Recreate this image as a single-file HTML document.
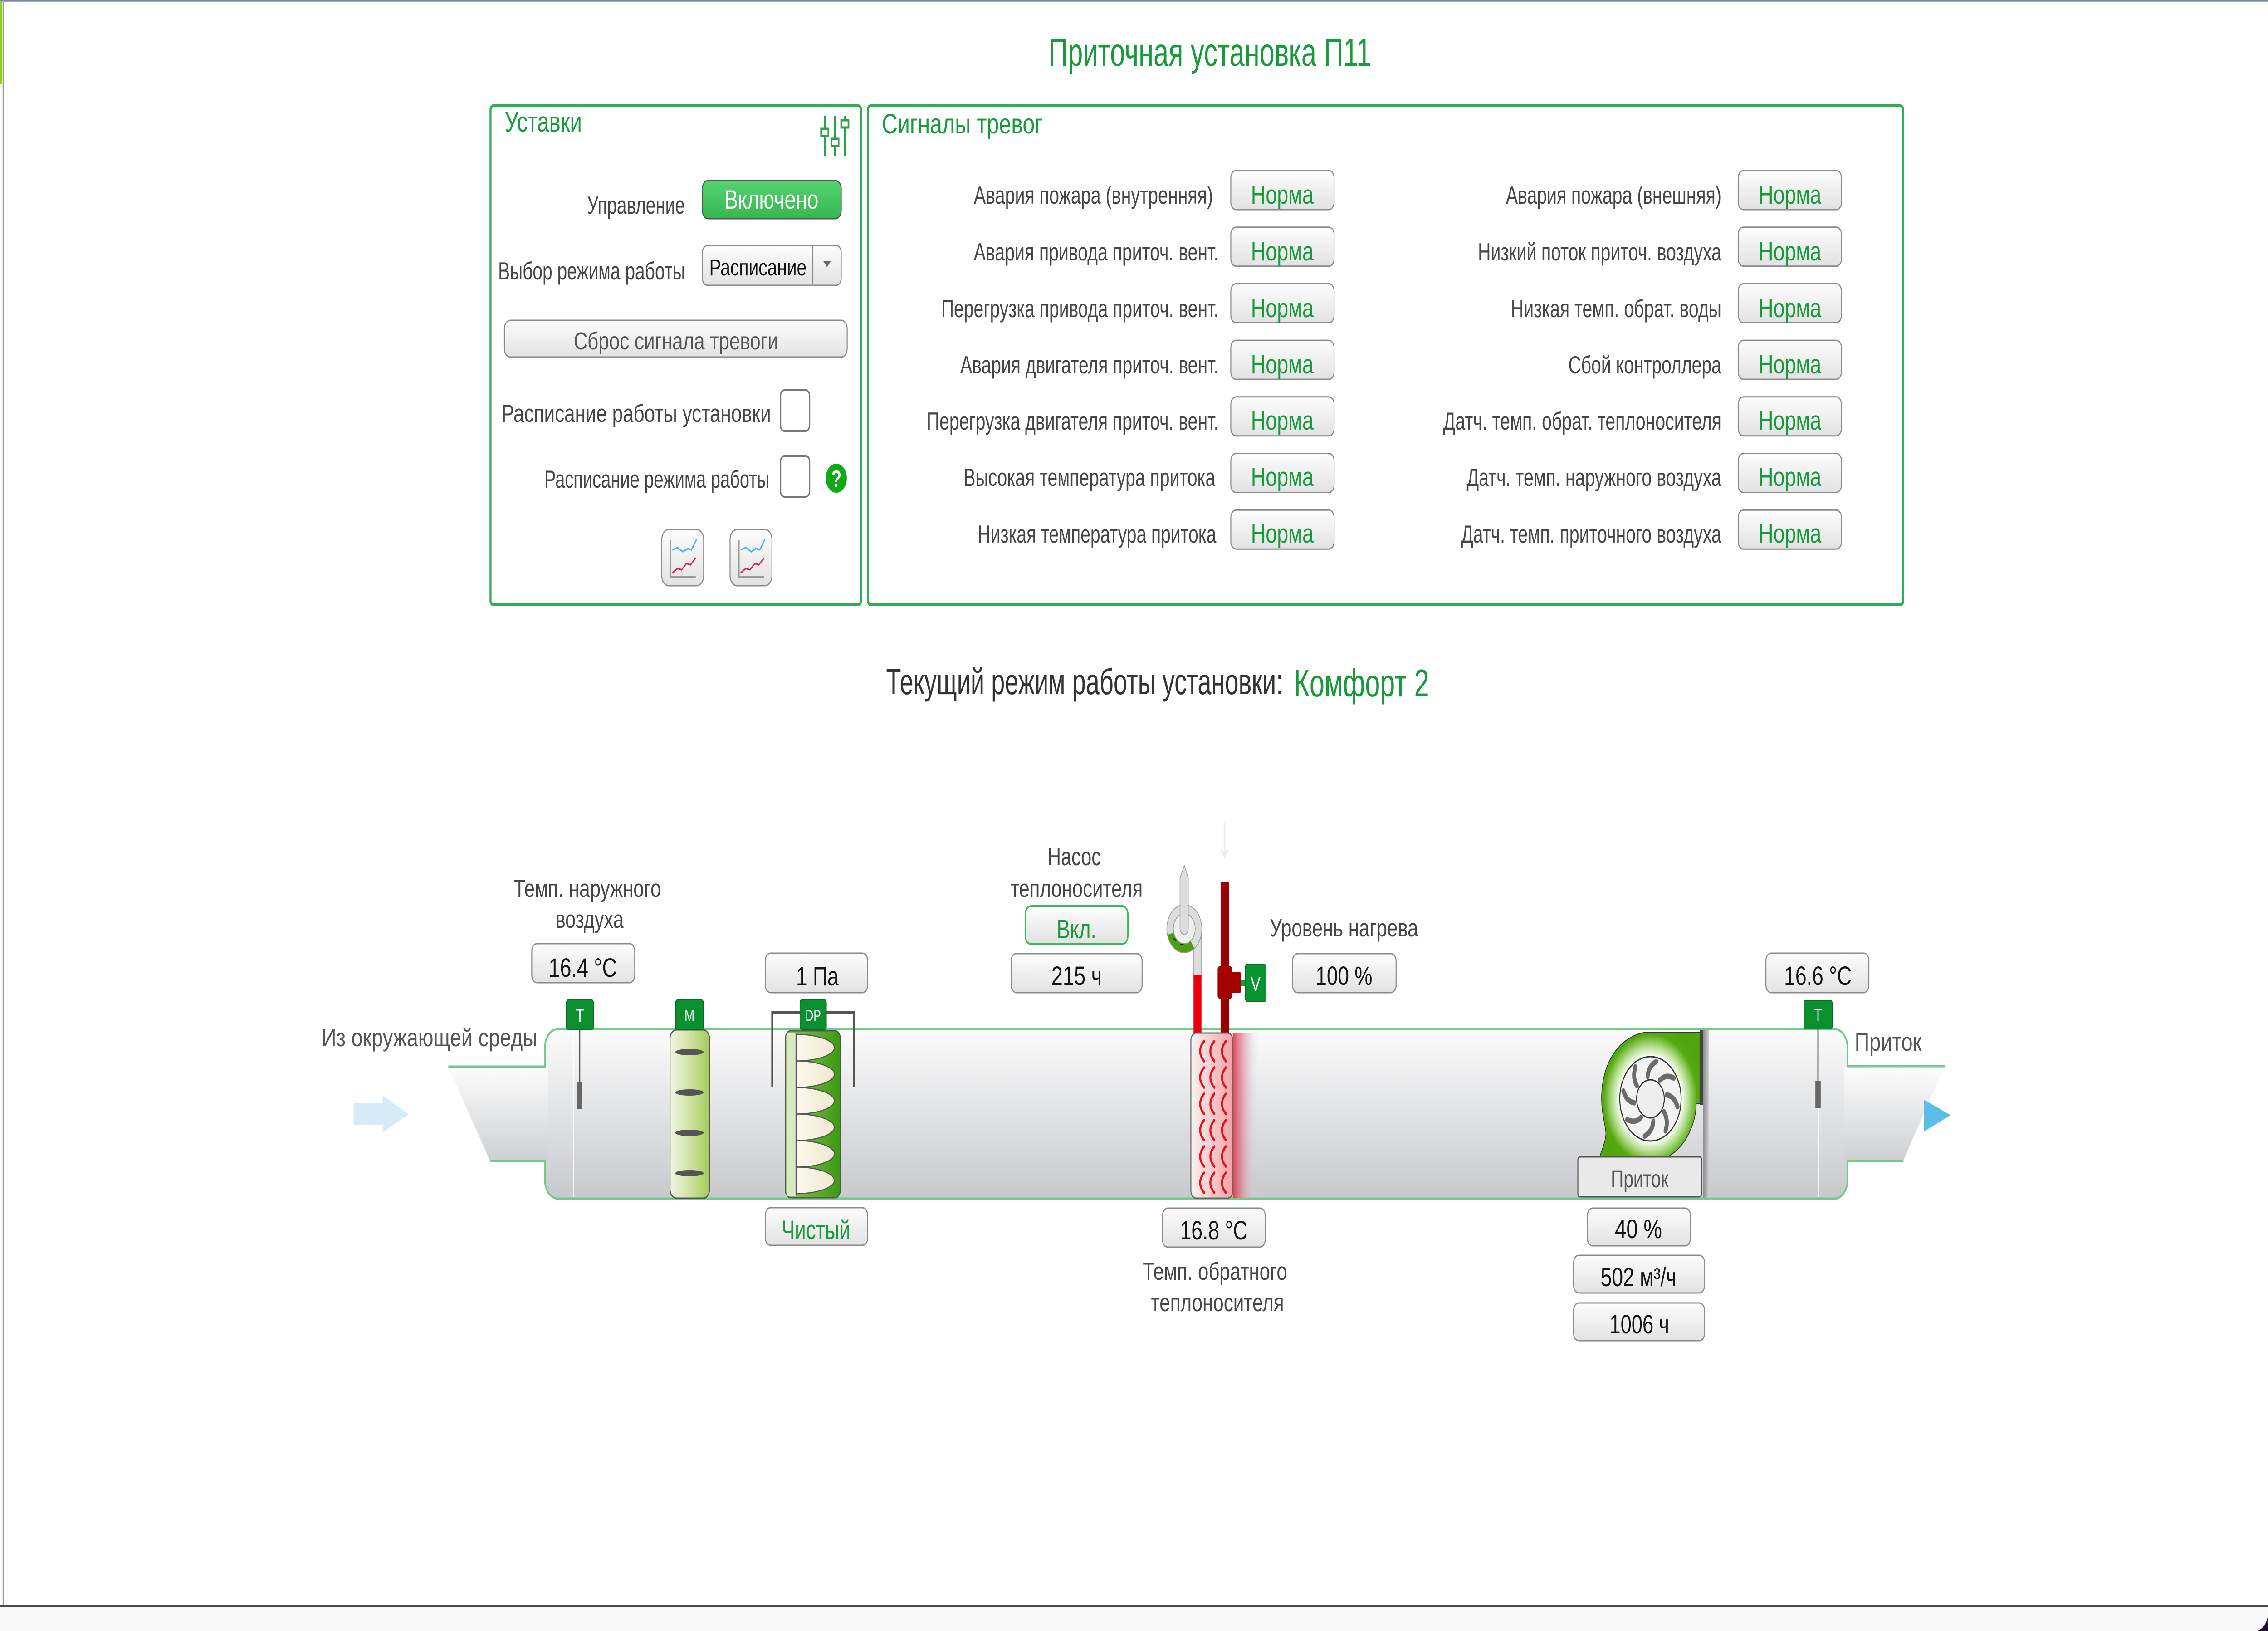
<!DOCTYPE html>
<html lang="ru">
<head>
<meta charset="utf-8">
<title>Приточная установка П11</title>
<style>
  html,body{margin:0;padding:0;background:#fff;width:100%;height:100%;overflow:hidden;}
  svg{display:block;position:fixed;left:0;top:0;width:100vw;height:100vh;}
  text{font-family:"Liberation Sans","DejaVu Sans",sans-serif;}
  .lbl{fill:#454545;font-size:55px;}
  .val{fill:#141414;font-size:58px;}
  .grn{fill:#169a3a;}
  .nrm{fill:#169a3a;font-size:58px;}
  .box{fill:url(#btn);stroke:#8a8a8a;stroke-width:3;}
</style>
</head>
<body>
<svg xmlns="http://www.w3.org/2000/svg" viewBox="0 0 6875 3595" preserveAspectRatio="none">
  <defs>
    <linearGradient id="btn" x1="0" y1="0" x2="0" y2="1">
      <stop offset="0" stop-color="#fdfdfd"/>
      <stop offset="1" stop-color="#e2e2e3"/>
    </linearGradient>
    <linearGradient id="gbtn" x1="0" y1="0" x2="0" y2="1">
      <stop offset="0" stop-color="#56d470"/>
      <stop offset="1" stop-color="#36b650"/>
    </linearGradient>
    <linearGradient id="duct" gradientUnits="userSpaceOnUse" x1="0" y1="2268" x2="0" y2="2642">
      <stop offset="0" stop-color="#fbfbfb"/>
      <stop offset="1" stop-color="#c7c9cd"/>
    </linearGradient>
    <linearGradient id="noz" gradientUnits="userSpaceOnUse" x1="0" y1="2351" x2="0" y2="2559">
      <stop offset="0" stop-color="#fdfdfd"/>
      <stop offset="1" stop-color="#cdcfd2"/>
    </linearGradient>
    <linearGradient id="damp" x1="0" y1="0" x2="1" y2="0">
      <stop offset="0" stop-color="#f0f4e2"/>
      <stop offset="0.5" stop-color="#cfe2a2"/>
      <stop offset="1" stop-color="#a3ca58"/>
    </linearGradient>
    <linearGradient id="filt" x1="0" y1="0" x2="1" y2="0">
      <stop offset="0" stop-color="#8cc850"/>
      <stop offset="1" stop-color="#3b9a12"/>
    </linearGradient>
    <linearGradient id="leaf" x1="0" y1="0" x2="1" y2="0">
      <stop offset="0" stop-color="#fbf8ee"/>
      <stop offset="1" stop-color="#efe9cf"/>
    </linearGradient>
    <linearGradient id="heat" x1="0" y1="0" x2="1" y2="0">
      <stop offset="0" stop-color="#f7f2f2"/>
      <stop offset="1" stop-color="#f3a4a8"/>
    </linearGradient>
    <linearGradient id="glow" x1="0" y1="0" x2="1" y2="0">
      <stop offset="0" stop-color="#e2303e" stop-opacity="0.9"/>
      <stop offset="0.5" stop-color="#d9a0b0" stop-opacity="0.6"/>
      <stop offset="1" stop-color="#d8e2ee" stop-opacity="0"/>
    </linearGradient>
    <radialGradient id="fanrad" gradientUnits="userSpaceOnUse" cx="5003" cy="2422" r="165">
      <stop offset="0" stop-color="#ffffff"/>
      <stop offset="0.56" stop-color="#ffffff"/>
      <stop offset="0.70" stop-color="#b6de90"/>
      <stop offset="0.86" stop-color="#55a90f"/>
      <stop offset="1" stop-color="#4ea50c"/>
    </radialGradient>
    <linearGradient id="topbar" x1="0" y1="0" x2="0" y2="1">
      <stop offset="0" stop-color="#56657c"/>
      <stop offset="1" stop-color="#c6ceda"/>
    </linearGradient>
    <linearGradient id="sep" x1="0" y1="0" x2="1" y2="0">
      <stop offset="0" stop-color="#8c8c8e"/>
      <stop offset="0.5" stop-color="#a8a8aa"/>
      <stop offset="1" stop-color="#d0d0d2"/>
    </linearGradient>
  </defs>

  <!-- page frame -->
  <rect x="0" y="0" width="6875" height="3595" fill="#ffffff"/>
  <rect x="0" y="0" width="6875" height="5" fill="url(#topbar)"/>
  <rect x="0" y="5" width="7" height="180" fill="#8fd01f"/>
  <rect x="8" y="0" width="4" height="3540" fill="#9a9a9a"/>
  <rect x="0" y="3538" width="6875" height="3" fill="#4a4a4a"/>
  <rect x="0" y="3541" width="6875" height="54" fill="#f8f8f8"/>
  <path d="M6875 3555 A40 40 0 0 1 6835 3595 L6875 3595 Z" fill="#1e1030"/>

  <!-- Title -->
  <text x="3178" y="145" font-size="87" class="grn" textLength="979" lengthAdjust="spacingAndGlyphs">Приточная установка П11</text>

  <!-- ============ Panel: Уставки ============ -->
  <rect x="1487" y="233" width="1123" height="1100" rx="8" fill="#fff" stroke="#2fae55" stroke-width="6"/>
  <text x="1530" y="290" font-size="62" class="grn" textLength="234" lengthAdjust="spacingAndGlyphs">Уставки</text>

  <!-- slider icon -->
  <g stroke="#2aa14a" stroke-width="5" fill="none">
    <line x1="2500" y1="255" x2="2500" y2="343"/>
    <line x1="2531" y1="255" x2="2531" y2="343"/>
    <line x1="2561" y1="255" x2="2561" y2="343"/>
    <rect x="2489" y="284" width="22" height="16" fill="#fff"/>
    <rect x="2520" y="306" width="22" height="16" fill="#fff"/>
    <rect x="2550" y="265" width="22" height="16" fill="#fff"/>
  </g>

  <text x="1780" y="471" class="lbl" font-size="53" textLength="296" lengthAdjust="spacingAndGlyphs">Управление</text>
  <rect x="2129" y="398" width="421" height="84" rx="18" fill="url(#gbtn)" stroke="#555" stroke-width="3"/>
  <text x="2196" y="460" font-size="58" fill="#ffffff" textLength="285" lengthAdjust="spacingAndGlyphs">Включено</text>

  <text x="1510" y="616" class="lbl" font-size="53" textLength="567" lengthAdjust="spacingAndGlyphs">Выбор режима работы</text>
  <rect x="2129" y="541" width="421" height="88" rx="16" class="box"/>
  <line x1="2464" y1="543" x2="2464" y2="627" stroke="#8a8a8a" stroke-width="3"/>
  <polygon points="2496,576 2518,576 2507,589" fill="#666"/>
  <text x="2150" y="607" font-size="51" fill="#111" textLength="295" lengthAdjust="spacingAndGlyphs">Расписание</text>

  <rect x="1529" y="706" width="1039" height="81" rx="18" class="box"/>
  <text x="1739" y="770" font-size="54" fill="#555" textLength="620" lengthAdjust="spacingAndGlyphs">Сброс сигнала тревоги</text>

  <text x="1520" y="930" class="lbl" font-size="56" textLength="817" lengthAdjust="spacingAndGlyphs">Расписание работы установки</text>
  <rect x="2366" y="860" width="88" height="90" rx="12" fill="#fff" stroke="#777" stroke-width="4"/>

  <text x="1650" y="1075" class="lbl" font-size="56" textLength="682" lengthAdjust="spacingAndGlyphs">Расписание режима работы</text>
  <rect x="2366" y="1005" width="88" height="90" rx="12" fill="#fff" stroke="#777" stroke-width="4"/>
  <circle cx="2535" cy="1054" r="32" fill="#12a818"/>
  <text x="2535" y="1073" font-size="52" font-weight="bold" fill="#fff" text-anchor="middle">?</text>

  <!-- chart buttons -->
  <g>
    <rect x="2006" y="1167" width="127" height="124" rx="22" class="box"/>
    <polyline points="2033,1190 2033,1272 2109,1272" fill="none" stroke="#9a9a9a" stroke-width="4"/>
    <polyline points="2038,1212 2054,1207 2070,1216 2085,1209 2096,1212 2112,1188" fill="none" stroke="#45b2e8" stroke-width="3.5"/>
    <polyline points="2038,1263 2054,1253 2066,1256 2081,1242 2093,1245 2109,1230" fill="none" stroke="#d4204e" stroke-width="3.5"/>
  </g>
  <g transform="translate(207,0)">
    <rect x="2006" y="1167" width="127" height="124" rx="22" class="box"/>
    <polyline points="2033,1190 2033,1272 2109,1272" fill="none" stroke="#9a9a9a" stroke-width="4"/>
    <polyline points="2038,1212 2054,1207 2070,1216 2085,1209 2096,1212 2112,1188" fill="none" stroke="#45b2e8" stroke-width="3.5"/>
    <polyline points="2038,1263 2054,1253 2066,1256 2081,1242 2093,1245 2109,1230" fill="none" stroke="#d4204e" stroke-width="3.5"/>
  </g>

  <!-- ============ Panel: Сигналы тревог ============ -->
  <rect x="2631" y="233" width="3138" height="1100" rx="8" fill="#fff" stroke="#2fae55" stroke-width="6"/>
  <text x="2673" y="294" font-size="61" class="grn" textLength="488" lengthAdjust="spacingAndGlyphs">Сигналы тревог</text>

  <!-- left column -->
  <text x="2952" y="449" class="lbl" textLength="725" lengthAdjust="spacingAndGlyphs">Авария пожара (внутренняя)</text>
  <text x="2952" y="574" class="lbl" textLength="742" lengthAdjust="spacingAndGlyphs">Авария привода приточ. вент.</text>
  <text x="2853" y="699" class="lbl" textLength="841" lengthAdjust="spacingAndGlyphs">Перегрузка привода приточ. вент.</text>
  <text x="2911" y="823" class="lbl" textLength="783" lengthAdjust="spacingAndGlyphs">Авария двигателя приточ. вент.</text>
  <text x="2809" y="947" class="lbl" textLength="885" lengthAdjust="spacingAndGlyphs">Перегрузка двигателя приточ. вент.</text>
  <text x="2921" y="1071" class="lbl" textLength="763" lengthAdjust="spacingAndGlyphs">Высокая температура притока</text>
  <text x="2964" y="1196" class="lbl" textLength="723" lengthAdjust="spacingAndGlyphs">Низкая температура притока</text>

  <g>
    <rect x="3731" y="376" width="313" height="86" rx="16" class="box"/>
    <rect x="3731" y="500.7" width="313" height="86" rx="16" class="box"/>
    <rect x="3731" y="625.4" width="313" height="86" rx="16" class="box"/>
    <rect x="3731" y="750.1" width="313" height="86" rx="16" class="box"/>
    <rect x="3731" y="874.8" width="313" height="86" rx="16" class="box"/>
    <rect x="3731" y="999.5" width="313" height="86" rx="16" class="box"/>
    <rect x="3731" y="1124.2" width="313" height="86" rx="16" class="box"/>
  </g>
  <g>
    <text x="3792" y="449" class="nrm" textLength="190" lengthAdjust="spacingAndGlyphs">Норма</text>
    <text x="3792" y="574" class="nrm" textLength="190" lengthAdjust="spacingAndGlyphs">Норма</text>
    <text x="3792" y="699" class="nrm" textLength="190" lengthAdjust="spacingAndGlyphs">Норма</text>
    <text x="3792" y="823" class="nrm" textLength="190" lengthAdjust="spacingAndGlyphs">Норма</text>
    <text x="3792" y="947" class="nrm" textLength="190" lengthAdjust="spacingAndGlyphs">Норма</text>
    <text x="3792" y="1071" class="nrm" textLength="190" lengthAdjust="spacingAndGlyphs">Норма</text>
    <text x="3792" y="1196" class="nrm" textLength="190" lengthAdjust="spacingAndGlyphs">Норма</text>
  </g>

  <!-- right column -->
  <text x="4565" y="449" class="lbl" textLength="653" lengthAdjust="spacingAndGlyphs">Авария пожара (внешняя)</text>
  <text x="4480" y="574" class="lbl" textLength="738" lengthAdjust="spacingAndGlyphs">Низкий поток приточ. воздуха</text>
  <text x="4580" y="699" class="lbl" textLength="638" lengthAdjust="spacingAndGlyphs">Низкая темп. обрат. воды</text>
  <text x="4754" y="823" class="lbl" textLength="464" lengthAdjust="spacingAndGlyphs">Сбой контроллера</text>
  <text x="4375" y="947" class="lbl" textLength="843" lengthAdjust="spacingAndGlyphs">Датч. темп. обрат. теплоносителя</text>
  <text x="4446" y="1071" class="lbl" textLength="772" lengthAdjust="spacingAndGlyphs">Датч. темп. наружного воздуха</text>
  <text x="4429" y="1196" class="lbl" textLength="789" lengthAdjust="spacingAndGlyphs">Датч. темп. приточного воздуха</text>

  <g>
    <rect x="5269" y="376" width="313" height="86" rx="16" class="box"/>
    <rect x="5269" y="500.7" width="313" height="86" rx="16" class="box"/>
    <rect x="5269" y="625.4" width="313" height="86" rx="16" class="box"/>
    <rect x="5269" y="750.1" width="313" height="86" rx="16" class="box"/>
    <rect x="5269" y="874.8" width="313" height="86" rx="16" class="box"/>
    <rect x="5269" y="999.5" width="313" height="86" rx="16" class="box"/>
    <rect x="5269" y="1124.2" width="313" height="86" rx="16" class="box"/>
  </g>
  <g>
    <text x="5331" y="449" class="nrm" textLength="190" lengthAdjust="spacingAndGlyphs">Норма</text>
    <text x="5331" y="574" class="nrm" textLength="190" lengthAdjust="spacingAndGlyphs">Норма</text>
    <text x="5331" y="699" class="nrm" textLength="190" lengthAdjust="spacingAndGlyphs">Норма</text>
    <text x="5331" y="823" class="nrm" textLength="190" lengthAdjust="spacingAndGlyphs">Норма</text>
    <text x="5331" y="947" class="nrm" textLength="190" lengthAdjust="spacingAndGlyphs">Норма</text>
    <text x="5331" y="1071" class="nrm" textLength="190" lengthAdjust="spacingAndGlyphs">Норма</text>
    <text x="5331" y="1196" class="nrm" textLength="190" lengthAdjust="spacingAndGlyphs">Норма</text>
  </g>

  <!-- Current mode -->
  <text x="2686" y="1530" font-size="80" fill="#333" textLength="1203" lengthAdjust="spacingAndGlyphs">Текущий режим работы установки:</text>
  <text x="3922" y="1535" font-size="85" class="grn" textLength="410" lengthAdjust="spacingAndGlyphs">Комфорт 2</text>

  <!-- ============ Diagram ============ -->
  <!-- inlet arrow -->
  <polygon points="1072,2432 1160,2432 1160,2415 1239,2456 1160,2496 1160,2479 1072,2479" fill="#d5ebf7"/>
  <text x="975" y="2306" font-size="55" fill="#555" textLength="654" lengthAdjust="spacingAndGlyphs">Из окружающей среды</text>

  <!-- duct body -->
  <rect x="1652" y="2268" width="3948" height="374" rx="40" fill="url(#duct)" stroke="#74c98c" stroke-width="5"/>

  <!-- inlet nozzle -->
  <polygon points="1359,2352 1662,2352 1662,2558 1485,2558" fill="url(#noz)"/>
  <line x1="1359" y1="2351" x2="1654" y2="2351" stroke="#74c98c" stroke-width="5"/>
  <line x1="1485" y1="2559" x2="1654" y2="2559" stroke="#74c98c" stroke-width="5"/>

  <!-- outlet nozzle -->
  <polygon points="5590,2352 5893,2352 5770,2557 5590,2557" fill="url(#noz)"/>
  <line x1="5598" y1="2350" x2="5897" y2="2350" stroke="#74c98c" stroke-width="5"/>
  <line x1="5598" y1="2559" x2="5770" y2="2559" stroke="#74c98c" stroke-width="5"/>
  <polygon points="5832,2424 5913,2458 5832,2494" fill="#5bbde8"/>
  <text x="5622" y="2316" font-size="57" fill="#555" textLength="203" lengthAdjust="spacingAndGlyphs">Приток</text>

  <!-- subtle section joints -->
  <line x1="1738" y1="2272" x2="1738" y2="2638" stroke="#ffffff" stroke-width="3" opacity="0.8"/>
  <line x1="5513" y1="2272" x2="5513" y2="2638" stroke="#ffffff" stroke-width="3" opacity="0.8"/>

  <!-- Outdoor temp sensor -->
  <text x="1557" y="1977" class="lbl" textLength="447" lengthAdjust="spacingAndGlyphs">Темп. наружного</text>
  <text x="1684" y="2045" class="lbl" textLength="206" lengthAdjust="spacingAndGlyphs">воздуха</text>
  <rect x="1612" y="2080" width="312" height="86" rx="16" class="box"/>
  <text x="1663" y="2153" class="val" textLength="207" lengthAdjust="spacingAndGlyphs">16.4 °C</text>
  <line x1="1757" y1="2269" x2="1757" y2="2386" stroke="#555" stroke-width="4"/>
  <rect x="1749" y="2384" width="16" height="60" fill="#666"/>
  <rect x="1717" y="2204" width="82" height="65" rx="5" fill="#0b8f2f" stroke="#0a6b24" stroke-width="2"/>
  <text x="1758" y="2252" font-size="40" fill="#fff" text-anchor="middle">T</text>

  <!-- Damper M -->
  <rect x="2031" y="2270" width="120" height="371" rx="20" fill="url(#damp)" stroke="#555" stroke-width="3"/>
  <ellipse cx="2090" cy="2319" rx="43" ry="7" fill="#555"/>
  <ellipse cx="2090" cy="2408" rx="43" ry="7" fill="#555"/>
  <ellipse cx="2090" cy="2497" rx="43" ry="7" fill="#555"/>
  <ellipse cx="2090" cy="2586" rx="43" ry="7" fill="#555"/>
  <rect x="2048" y="2204" width="84" height="65" rx="5" fill="#0b8f2f" stroke="#0a6b24" stroke-width="2"/>
  <text x="2090" y="2251" font-size="36" fill="#fff" text-anchor="middle">M</text>

  <!-- Filter DP -->
  <path d="M2341 2395 V2232 H2588 V2395" fill="none" stroke="#555" stroke-width="6"/>
  <rect x="2320" y="2101" width="310" height="87" rx="16" class="box"/>
  <text x="2413" y="2172" class="val" textLength="129" lengthAdjust="spacingAndGlyphs">1 Па</text>
  <rect x="2381" y="2272" width="166" height="368" rx="16" fill="url(#filt)" stroke="#555" stroke-width="3"/>
  <rect x="2384" y="2276" width="29" height="360" fill="#d9e8c6"/>
  <g fill="url(#leaf)" stroke="#555" stroke-width="2.5">
    <path d="M2413 2280 A115 29 0 0 1 2413 2338.5 Z"/>
    <path d="M2413 2338.5 A115 29 0 0 1 2413 2397 Z"/>
    <path d="M2413 2397 A115 29 0 0 1 2413 2455.5 Z"/>
    <path d="M2413 2455.5 A115 29 0 0 1 2413 2514 Z"/>
    <path d="M2413 2514 A115 29 0 0 1 2413 2572.5 Z"/>
    <path d="M2413 2572.5 A115 29 0 0 1 2413 2631 Z"/>
  </g>
  <line x1="2413" y1="2278" x2="2413" y2="2634" stroke="#555" stroke-width="3"/>
  <rect x="2425" y="2204" width="80" height="65" rx="5" fill="#0b8f2f" stroke="#0a6b24" stroke-width="2"/>
  <text x="2465" y="2250" font-size="34" fill="#fff" text-anchor="middle">DP</text>
  <rect x="2320" y="2662" width="310" height="83" rx="16" class="box"/>
  <text x="2369" y="2731" class="nrm" textLength="209" lengthAdjust="spacingAndGlyphs">Чистый</text>

  <!-- Pump -->
  <text x="3175" y="1907" class="lbl" textLength="162" lengthAdjust="spacingAndGlyphs">Насос</text>
  <text x="3063" y="1977" class="lbl" textLength="401" lengthAdjust="spacingAndGlyphs">теплоносителя</text>
  <rect x="3108" y="1997" width="311" height="84" rx="18" fill="url(#btn)" stroke="#3cb85a" stroke-width="4"/>
  <text x="3203" y="2068" class="nrm" textLength="120" lengthAdjust="spacingAndGlyphs">Вкл.</text>
  <rect x="3065" y="2102" width="397" height="86" rx="16" class="box"/>
  <text x="3187" y="2171" class="val" textLength="153" lengthAdjust="spacingAndGlyphs">215 ч</text>

  <!-- faint arrow above supply pipe -->
  <path d="M3712 1815 V1885 M3702 1872 L3712 1888 L3722 1872" fill="none" stroke="#ececec" stroke-width="5"/>

  <!-- return pipe (gray + red) -->
  <rect x="3618" y="2047" width="24" height="105" fill="#dddddd" stroke="#aaaaaa" stroke-width="2"/>
  <rect x="3618" y="2150" width="24" height="128" fill="#e8000e"/>
  <!-- pump ring -->
  <circle cx="3590" cy="2047" r="43" fill="none" stroke="#dcdcdc" stroke-width="20"/>
  <path d="M3548.5 2058.1 A43 43 0 0 0 3614.7 2082.2" fill="none" stroke="#4a9f10" stroke-width="20"/>
  <g stroke="#222" stroke-width="3">
    <line x1="3557" y1="2068" x2="3566" y2="2074"/>
    <line x1="3578" y1="2082" x2="3588" y2="2080"/>
    <line x1="3600" y1="2080" x2="3606" y2="2072"/>
  </g>
  <circle cx="3590" cy="2047" r="53" fill="none" stroke="#999" stroke-width="2"/>
  <circle cx="3590" cy="2047" r="33" fill="#eeeeee" stroke="#999" stroke-width="2"/>
  <path d="M3577 2047 V1935 L3590 1908 L3602 1935 V2047 A12.5 12.5 0 0 1 3577 2047 Z" fill="#dddddd" stroke="#999" stroke-width="2"/>

  <!-- supply pipe + valve -->
  <rect x="3700" y="1943" width="26" height="335" fill="#9b0000"/>
  <rect x="3691" y="2129" width="44" height="73" rx="8" fill="#a30000"/>
  <rect x="3733" y="2143" width="29" height="45" rx="3" fill="#a30000"/>
  <rect x="3762" y="2160" width="16" height="13" fill="#1a9a3a"/>
  <rect x="3775" y="2125" width="63" height="83" rx="7" fill="#0a9430" stroke="#0a6b24" stroke-width="2"/>
  <text x="3806" y="2184" font-size="44" fill="#fff" text-anchor="middle">V</text>

  <text x="3849" y="2064" class="lbl" textLength="450" lengthAdjust="spacingAndGlyphs">Уровень нагрева</text>
  <rect x="3918" y="2102" width="314" height="86" rx="16" class="box"/>
  <text x="3988" y="2171" class="val" textLength="172" lengthAdjust="spacingAndGlyphs">100 %</text>

  <!-- heater coil -->
  <rect x="3737" y="2277" width="78" height="364" fill="url(#glow)"/>
  <rect x="3610" y="2277" width="127" height="364" rx="16" fill="url(#heat)" stroke="#666" stroke-width="3"/>
  <g fill="none" stroke="#e8101a" stroke-width="6" stroke-linecap="round">
    <path d="M3650 2295 Q3626 2317 3650 2339 M3681 2295 Q3657 2317 3681 2339 M3716 2295 Q3692 2317 3716 2339"/>
    <path d="M3650 2353 Q3626 2375 3650 2397 M3681 2353 Q3657 2375 3681 2397 M3716 2353 Q3692 2375 3716 2397"/>
    <path d="M3650 2411 Q3626 2433 3650 2455 M3681 2411 Q3657 2433 3681 2455 M3716 2411 Q3692 2433 3716 2455"/>
    <path d="M3650 2469 Q3626 2491 3650 2513 M3681 2469 Q3657 2491 3681 2513 M3716 2469 Q3692 2491 3716 2513"/>
    <path d="M3650 2527 Q3626 2549 3650 2571 M3681 2527 Q3657 2549 3681 2571 M3716 2527 Q3692 2549 3716 2571"/>
    <path d="M3650 2585 Q3626 2607 3650 2629 M3681 2585 Q3657 2607 3681 2629 M3716 2585 Q3692 2607 3716 2629"/>
  </g>
  <rect x="3524" y="2663" width="311" height="86" rx="16" class="box"/>
  <text x="3577" y="2732" class="val" textLength="205" lengthAdjust="spacingAndGlyphs">16.8 °C</text>
  <text x="3464" y="2821" class="lbl" textLength="438" lengthAdjust="spacingAndGlyphs">Темп. обратного</text>
  <text x="3489" y="2890" class="lbl" textLength="403" lengthAdjust="spacingAndGlyphs">теплоносителя</text>

  <!-- Fan -->
  <path d="M5153 2275 L4990 2275 C4905 2285 4855 2345 4855 2420 C4855 2460 4868 2480 4868 2500 C4866 2520 4855 2535 4850 2548 L5060 2548 C5110 2525 5140 2480 5142 2432 L5153 2432 Z" fill="url(#fanrad)" stroke="#333" stroke-width="2"/>
  <rect x="5153" y="2270" width="10" height="165" fill="#444"/>
  <rect x="5162" y="2270" width="18" height="370" fill="url(#sep)"/>
  <circle cx="5003" cy="2422" r="93" fill="#f2f2f2" stroke="#333" stroke-width="3"/>
  <g fill="none" stroke="#4a4a4a" stroke-width="12" stroke-linecap="round" opacity="0.8">
    <path d="M5052.3 2413.3 Q5074.7 2415.7 5085.2 2439.5"/>
    <path d="M5044 2450.7 Q5058.2 2468.3 5048.8 2492.5"/>
    <path d="M5011.7 2471.3 Q5009.3 2493.7 4985.5 2504.2"/>
    <path d="M4974.3 2463 Q4956.7 2477.2 4932.5 2467.8"/>
    <path d="M4953.7 2430.7 Q4931.3 2428.3 4920.8 2404.5"/>
    <path d="M4962 2393.3 Q4947.8 2375.7 4957.2 2351.5"/>
    <path d="M4994.3 2372.7 Q4996.7 2350.3 5020.5 2339.8"/>
    <path d="M5031.7 2381 Q5049.3 2366.8 5073.5 2376.2"/>
  </g>
  <circle cx="5003" cy="2422" r="42" fill="#eeeeee" stroke="#333" stroke-width="3"/>
  <rect x="4783" y="2550" width="375" height="88" rx="6" fill="#e9e9ea" stroke="#555" stroke-width="3"/>
  <text x="4883" y="2617" font-size="54" fill="#555" textLength="175" lengthAdjust="spacingAndGlyphs">Приток</text>

  <rect x="4812" y="2663" width="312" height="83" rx="16" class="box"/>
  <text x="4895" y="2729" class="val" textLength="143" lengthAdjust="spacingAndGlyphs">40 %</text>
  <rect x="4770" y="2767" width="397" height="83" rx="16" class="box"/>
  <text x="4852" y="2835" class="val" textLength="230" lengthAdjust="spacingAndGlyphs">502 м³/ч</text>
  <rect x="4770" y="2872" width="397" height="83" rx="16" class="box"/>
  <text x="4879" y="2939" class="val" textLength="181" lengthAdjust="spacingAndGlyphs">1006 ч</text>

  <!-- Supply temp sensor -->
  <rect x="5353" y="2101" width="312" height="87" rx="16" class="box"/>
  <text x="5408" y="2171" class="val" textLength="205" lengthAdjust="spacingAndGlyphs">16.6 °C</text>
  <line x1="5511" y1="2268" x2="5511" y2="2385" stroke="#555" stroke-width="4"/>
  <rect x="5503" y="2383" width="16" height="60" fill="#666"/>
  <rect x="5468" y="2205" width="86" height="63" rx="5" fill="#0b8f2f" stroke="#0a6b24" stroke-width="2"/>
  <text x="5511" y="2251" font-size="40" fill="#fff" text-anchor="middle">T</text>
</svg>
</body>
</html>
